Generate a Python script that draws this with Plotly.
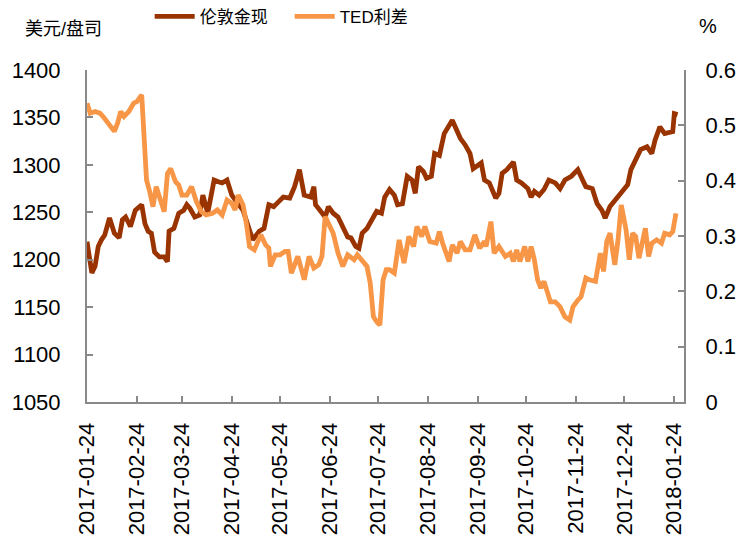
import plotly.graph_objects as go

# 伦敦金现 (USD/oz)
gold_dates = ["2017-01-24","2017-01-27","2017-01-29","2017-01-31","2017-02-02","2017-02-04","2017-02-07","2017-02-10","2017-02-13","2017-02-15","2017-02-17","2017-02-20","2017-02-23","2017-02-27","2017-03-01","2017-03-03","2017-03-05","2017-03-07","2017-03-10","2017-03-13","2017-03-15","2017-03-16","2017-03-19","2017-03-22","2017-03-25","2017-03-27","2017-03-29","2017-04-01","2017-04-04","2017-04-06","2017-04-09","2017-04-13","2017-04-16","2017-04-18","2017-04-21","2017-04-24","2017-04-27","2017-05-01","2017-05-05","2017-05-07","2017-05-11","2017-05-14","2017-05-17","2017-05-20","2017-05-23","2017-05-26","2017-05-30","2017-06-02","2017-06-05","2017-06-08","2017-06-12","2017-06-14","2017-06-15","2017-06-18","2017-06-21","2017-06-23","2017-06-26","2017-06-29","2017-07-02","2017-07-05","2017-07-07","2017-07-10","2017-07-12","2017-07-14","2017-07-17","2017-07-20","2017-07-23","2017-07-26","2017-07-28","2017-07-31","2017-08-03","2017-08-05","2017-08-08","2017-08-11","2017-08-14","2017-08-16","2017-08-18","2017-08-21","2017-08-23","2017-08-26","2017-08-28","2017-08-31","2017-09-03","2017-09-08","2017-09-11","2017-09-13","2017-09-16","2017-09-19","2017-09-21","2017-09-24","2017-09-26","2017-09-28","2017-10-01","2017-10-05","2017-10-07","2017-10-09","2017-10-12","2017-10-16","2017-10-18","2017-10-21","2017-10-25","2017-10-27","2017-10-29","2017-11-01","2017-11-04","2017-11-07","2017-11-11","2017-11-14","2017-11-17","2017-11-21","2017-11-25","2017-11-28","2017-11-30","2017-12-04","2017-12-07","2017-12-10","2017-12-12","2017-12-15","2017-12-19","2017-12-23","2017-12-26","2017-12-28","2017-12-31","2018-01-03","2018-01-07","2018-01-10","2018-01-12","2018-01-15","2018-01-18","2018-01-23","2018-01-24","2018-01-26"]
gold_values = [1219,1186,1193,1214,1221,1226,1244,1228,1223,1242,1245,1235,1252,1258,1238,1230,1228,1208,1203,1203,1198,1230,1233,1249,1252,1258,1254,1245,1247,1268,1249,1284,1282,1281,1284,1268,1261,1252,1231,1221,1230,1233,1258,1256,1261,1266,1265,1277,1295,1268,1266,1277,1258,1252,1245,1256,1249,1245,1235,1224,1223,1214,1212,1228,1233,1242,1251,1249,1266,1274,1268,1258,1259,1288,1284,1270,1298,1293,1286,1288,1312,1310,1333,1347,1337,1328,1321,1312,1296,1300,1302,1284,1281,1265,1270,1291,1295,1303,1284,1281,1275,1266,1272,1268,1274,1284,1281,1275,1284,1288,1295,1284,1277,1275,1259,1252,1244,1256,1265,1274,1279,1295,1305,1316,1319,1312,1326,1340,1333,1335,1354,1353]

# TED利差 (%)
ted_dates = ["2017-01-24","2017-01-26","2017-01-29","2017-02-01","2017-02-03","2017-02-06","2017-02-10","2017-02-12","2017-02-14","2017-02-16","2017-02-19","2017-02-22","2017-02-24","2017-02-27","2017-02-28","2017-03-02","2017-03-04","2017-03-06","2017-03-08","2017-03-10","2017-03-13","2017-03-15","2017-03-17","2017-03-20","2017-03-22","2017-03-24","2017-03-27","2017-03-30","2017-04-02","2017-04-05","2017-04-08","2017-04-12","2017-04-15","2017-04-18","2017-04-21","2017-04-24","2017-04-26","2017-04-28","2017-05-01","2017-05-03","2017-05-05","2017-05-08","2017-05-12","2017-05-15","2017-05-17","2017-05-18","2017-05-21","2017-05-24","2017-05-27","2017-05-29","2017-05-31","2017-06-02","2017-06-04","2017-06-08","2017-06-11","2017-06-14","2017-06-17","2017-06-19","2017-06-21","2017-06-24","2017-06-26","2017-06-29","2017-07-02","2017-07-05","2017-07-09","2017-07-11","2017-07-14","2017-07-17","2017-07-19","2017-07-21","2017-07-23","2017-07-25","2017-07-27","2017-07-29","2017-07-31","2017-08-03","2017-08-06","2017-08-09","2017-08-12","2017-08-15","2017-08-17","2017-08-20","2017-08-22","2017-08-25","2017-08-29","2017-08-31","2017-09-02","2017-09-06","2017-09-08","2017-09-11","2017-09-13","2017-09-16","2017-09-19","2017-09-22","2017-09-25","2017-09-28","2017-09-29","2017-10-02","2017-10-04","2017-10-07","2017-10-11","2017-10-14","2017-10-16","2017-10-18","2017-10-20","2017-10-23","2017-10-25","2017-10-27","2017-10-29","2017-10-31","2017-11-02","2017-11-04","2017-11-08","2017-11-11","2017-11-14","2017-11-17","2017-11-20","2017-11-22","2017-11-25","2017-11-27","2017-11-30","2017-12-02","2017-12-06","2017-12-09","2017-12-11","2017-12-13","2017-12-15","2017-12-18","2017-12-20","2017-12-22","2017-12-25","2017-12-27","2017-12-29","2017-12-31","2018-01-02","2018-01-06","2018-01-08","2018-01-10","2018-01-13","2018-01-16","2018-01-18","2018-01-21","2018-01-23","2018-01-25"]
ted_values = [0.540,0.522,0.525,0.522,0.516,0.504,0.489,0.504,0.525,0.516,0.525,0.540,0.543,0.555,0.492,0.401,0.380,0.353,0.389,0.368,0.344,0.413,0.422,0.398,0.392,0.374,0.374,0.389,0.362,0.344,0.338,0.341,0.347,0.338,0.365,0.359,0.347,0.374,0.356,0.323,0.281,0.275,0.302,0.284,0.278,0.245,0.266,0.266,0.272,0.272,0.233,0.248,0.263,0.221,0.263,0.242,0.248,0.263,0.335,0.317,0.305,0.269,0.245,0.266,0.257,0.266,0.254,0.245,0.215,0.154,0.145,0.139,0.221,0.239,0.239,0.233,0.293,0.251,0.299,0.281,0.317,0.299,0.317,0.290,0.287,0.308,0.287,0.254,0.284,0.269,0.290,0.275,0.275,0.302,0.278,0.290,0.281,0.326,0.269,0.281,0.263,0.269,0.254,0.275,0.254,0.281,0.254,0.281,0.257,0.221,0.206,0.218,0.181,0.181,0.172,0.154,0.148,0.172,0.184,0.190,0.224,0.221,0.218,0.269,0.236,0.290,0.305,0.248,0.293,0.356,0.311,0.257,0.305,0.299,0.260,0.314,0.263,0.287,0.293,0.287,0.305,0.302,0.308,0.341]

tick_dates = ["2017-01-24","2017-02-24","2017-03-24","2017-04-24","2017-05-24","2017-06-24","2017-07-24","2017-08-24","2017-09-24","2017-10-24","2017-11-24","2017-12-24","2018-01-24"]

FONT = "Liberation Sans, Arial, Noto Sans CJK SC, sans-serif"
AXIS_COLOR = "#898989"

fig = go.Figure()
fig.add_trace(go.Scatter(x=gold_dates, y=gold_values, name="伦敦金现", mode="lines",
                         line=dict(color="#993300", width=4.8), yaxis="y"))
fig.add_trace(go.Scatter(x=ted_dates, y=ted_values, name="TED利差", mode="lines",
                         line=dict(color="#F79646", width=4.8), yaxis="y2"))

# page body has an 8px default margin, so the figure is 740x537
fig.update_layout(
    width=740, height=537,
    margin=dict(l=79, r=64, t=62, b=143, autoexpand=False),
    paper_bgcolor="white", plot_bgcolor="white",
    font=dict(family=FONT, size=19, color="black"),
    showlegend=True,
    legend=dict(orientation="h", x=0.105, xanchor="left", y=1.16, yanchor="middle",
                font=dict(size=17), bgcolor="rgba(0,0,0,0)", itemwidth=40,
                entrywidth=85, tracegroupgap=0),
    xaxis=dict(type="date", range=["2017-01-24", "2018-01-30"],
               tickvals=tick_dates, ticktext=tick_dates, tickangle=-90,
               tickfont=dict(size=22), showgrid=False, zeroline=False,
               showline=True, linecolor=AXIS_COLOR, linewidth=2,
               ticks="inside", ticklen=6, tickcolor=AXIS_COLOR, tickwidth=2,
               ticklabelstandoff=10, automargin=False),
    yaxis=dict(range=[1050, 1400], dtick=50, tick0=1050, showgrid=False, zeroline=False,
               showline=True, linecolor=AXIS_COLOR, linewidth=2,
               ticks="inside", ticklen=6, tickcolor=AXIS_COLOR, tickwidth=2,
               tickfont=dict(size=22), ticklabelstandoff=20, automargin=False),
    yaxis2=dict(range=[0, 0.6], dtick=0.1, tick0=0, overlaying="y", side="right",
                showgrid=False, zeroline=False,
                showline=True, linecolor=AXIS_COLOR, linewidth=2,
                ticks="inside", ticklen=6, tickcolor=AXIS_COLOR, tickwidth=2,
                tickfont=dict(size=22), ticklabelstandoff=15, automargin=False),
    annotations=[
        dict(text="美元/盘司", xref="paper", yref="paper", x=-0.108, y=1.122,
             xanchor="left", yanchor="middle", showarrow=False, font=dict(size=18)),
        dict(text="%", xref="paper", yref="paper", x=1.022, y=1.132,
             xanchor="left", yanchor="middle", showarrow=False, font=dict(size=20)),
    ],
)

fig.write_html("out.html")
